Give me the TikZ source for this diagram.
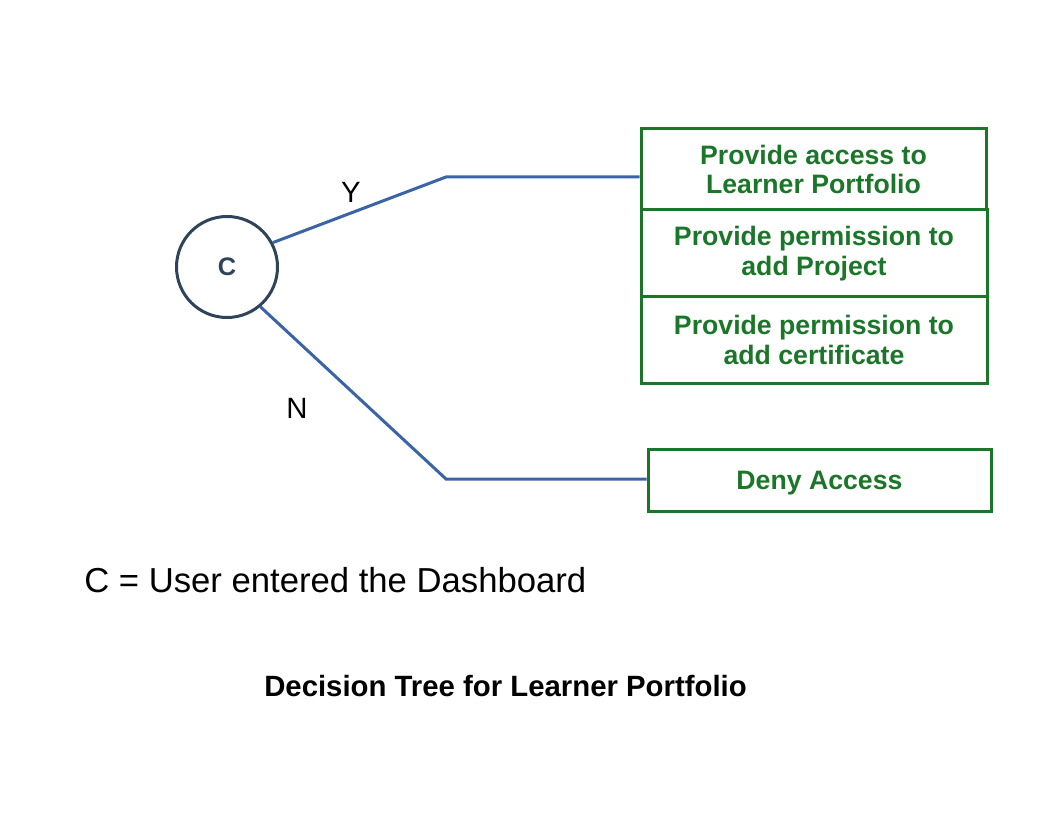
\documentclass[tikz,border=0pt]{standalone}
\usepackage{fontspec}
\setmainfont{Liberation Sans}
\newlength\px
\setlength\px{0.75pt}
\definecolor{boxgreen}{RGB}{28,118,42}
\definecolor{lineblue}{RGB}{58,100,166}
\definecolor{slate}{RGB}{47,68,88}
\begin{document}
\begin{tikzpicture}[x=0.75pt,y=-0.75pt,
  outbox/.style={draw=boxgreen,line width=3\px,text=boxgreen,align=center,
    font=\fontsize{20}{22}\selectfont\bfseries,inner sep=0pt},
  branch/.style={draw=lineblue,line width=3\px},
  lbl/.style={font=\fontsize{22}{26}\selectfont,inner sep=0pt}]
\useasboundingbox[fill=white] (0,0) rectangle (1056,816);
\node[draw=slate,line width=3\px,circle,minimum size=101\px,inner sep=0pt,
  text=slate,font=\fontsize{19}{22}\selectfont\bfseries] (c) at (227,267) {C};
\node[outbox,minimum width=345\px,minimum height=81\px] (b1) at (813.5,169.5) {Provide access to\\ Learner Portfolio};
\node[outbox,minimum width=346\px,minimum height=87\px] (b2) at (814,253.5) {Provide permission to\\add Project};
\node[outbox,minimum width=346\px,minimum height=86\px] (b3) at (814,340) {Provide permission to\\add certificate};
\node[outbox,minimum width=343\px,minimum height=62\px,text depth=0pt] (deny) at (819.5,480) {Deny Access};
\coordinate (yk) at (446,177);
\coordinate (nk) at (446,479);
\draw[branch] (c.28) -- (yk) -- (yk -| b1.west);
\draw[branch] (c.-50) -- (nk) -- (nk -| deny.west);
\node[lbl] (ylab) at (351,192) {Y};
\node[lbl] (nlab) at (297,408) {N};
\node[anchor=west,inner sep=0pt,font=\fontsize{26}{30}\selectfont] (legend) at (84,580) {C = User entered the Dashboard};
\node[inner sep=0pt,font=\fontsize{22}{26}\selectfont\bfseries] (title) at (505.5,686) {Decision Tree for Learner Portfolio};
\end{tikzpicture}
\end{document}
